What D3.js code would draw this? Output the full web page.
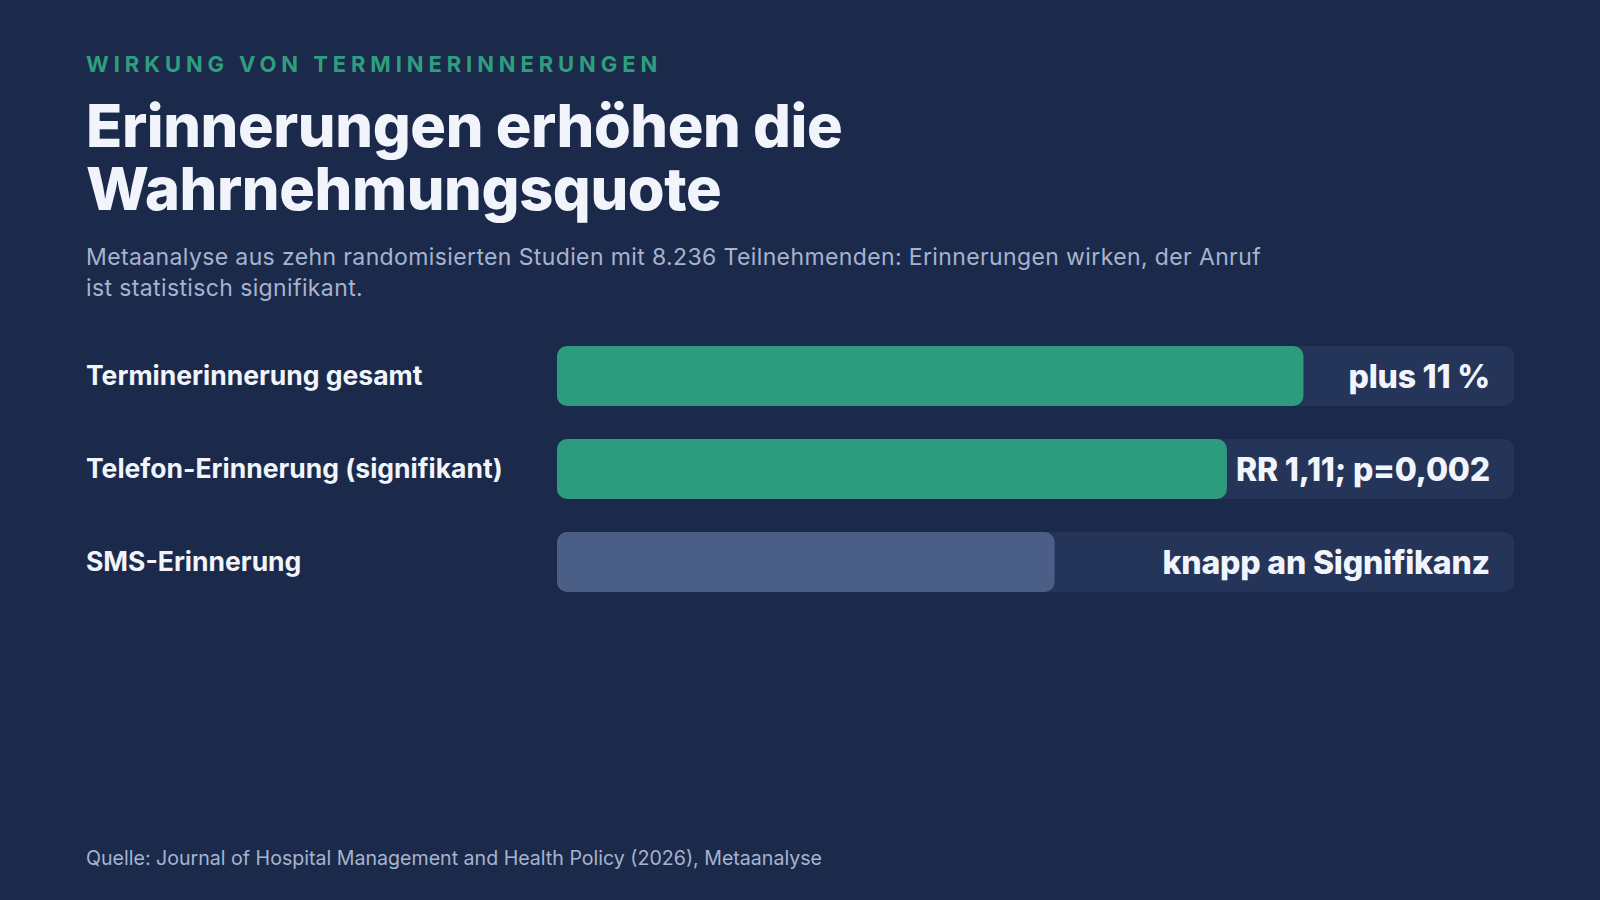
<!DOCTYPE html>
<html lang="de">
<head>
<meta charset="utf-8">
<script src="https://cdn.jsdelivr.net/npm/d3@7"></script>
<style>
  html, body { margin: 0; padding: 0; background: #1b2a4a; }
  svg { display: block; font-family: "Inter", "Noto Sans", sans-serif; }
</style>
</head>
<body>
<div id="chart"></div>
<script>
// data
const categories = ["Terminerinnerung gesamt", "Telefon-Erinnerung (signifikant)", "SMS-Erinnerung"];
const values = [78, 70, 52];
const valueLabels = ["plus 11 %", "RR 1,11; p=0,002", "knapp an Signifikanz"];
const significant = [true, true, false];

const width = 1600, height = 900;
const left = 86;

const svg = d3.select("#chart").append("svg")
  .attr("width", width)
  .attr("height", height);

svg.append("rect").attr("width", width).attr("height", height).attr("fill", "#1b2a4a");

// header
svg.append("text")
  .attr("x", left).attr("y", 72)
  .attr("fill", "#2f9e7e")
  .attr("font-size", 22).attr("font-weight", 700)
  .attr("letter-spacing", "4.9px")
  .text("WIRKUNG VON TERMINERINNERUNGEN");

const title = svg.append("text")
  .attr("x", left).attr("y", 147)
  .attr("fill", "#f1f5fb")
  .attr("font-size", 59.5).attr("font-weight", 800)
  .attr("letter-spacing", "-0.4px");
title.append("tspan").attr("x", left).text("Erinnerungen erhöhen die");
title.append("tspan").attr("x", left).attr("dy", 63).text("Wahrnehmungsquote");

const sub = svg.append("text")
  .attr("x", left).attr("y", 265)
  .attr("fill", "#a7b3cf")
  .attr("font-size", 23).attr("font-weight", 400)
  .attr("letter-spacing", "0.38px");
sub.append("tspan").attr("x", left)
  .text("Metaanalyse aus zehn randomisierten Studien mit 8.236 Teilnehmenden: Erinnerungen wirken, der Anruf");
sub.append("tspan").attr("x", left).attr("dy", 31).text("ist statistisch signifikant.");

// bars
const x0 = 557, x1 = 1514;
const x = d3.scaleLinear().domain([0, 100]).range([x0, x1]);
const y = d3.scaleBand().domain(categories).range([346, 592]).paddingInner(0.355).paddingOuter(0);

const row = svg.selectAll("g.row")
  .data(categories.map((c, i) => ({ c, v: values[i], label: valueLabels[i], sig: significant[i] })))
  .join("g").attr("class", "row");

row.append("rect")
  .attr("x", x(0)).attr("y", d => y(d.c))
  .attr("width", x(100) - x(0)).attr("height", y.bandwidth())
  .attr("rx", 10)
  .attr("fill", "#25355a");

row.append("rect")
  .attr("x", x(0)).attr("y", d => y(d.c))
  .attr("width", d => x(d.v) - x(0)).attr("height", y.bandwidth())
  .attr("rx", 10)
  .attr("fill", d => d.sig ? "#2d9c7c" : "#4b5e86");

row.append("text")
  .attr("x", left).attr("y", d => y(d.c) + y.bandwidth() / 2)
  .attr("dy", "0.35em")
  .attr("fill", "#f1f5fb")
  .attr("font-size", 26.5).attr("font-weight", 700)
  .text(d => d.c);

row.append("text")
  .attr("x", x(100) - 24).attr("y", d => y(d.c) + y.bandwidth() / 2)
  .attr("dy", "0.36em")
  .attr("text-anchor", "end")
  .attr("fill", "#f1f5fb")
  .attr("font-size", 32).attr("font-weight", 800)
  .attr("letter-spacing", "-0.2px")
  .text(d => d.label);

// footer
svg.append("text")
  .attr("x", left).attr("y", 865)
  .attr("fill", "#a7b3cf")
  .attr("font-size", 19.6).attr("font-weight", 400)
  .text("Quelle: Journal of Hospital Management and Health Policy (2026), Metaanalyse");
</script>
</body>
</html>
